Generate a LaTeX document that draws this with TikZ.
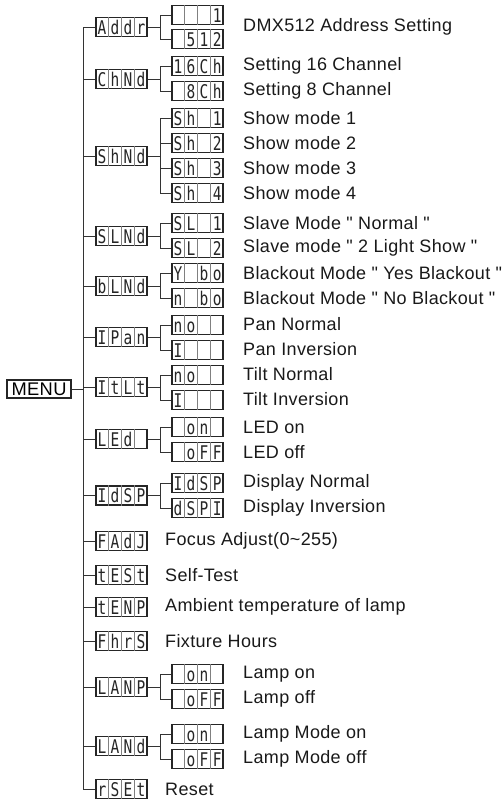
\documentclass[tikz,border=0pt]{standalone}
\usepackage{fontspec}
\setmainfont{Liberation Sans}
\newfontfamily\segfont{DejaVu Sans Mono}
\newfontfamily\lblfont[LetterSpace=2]{Liberation Sans}
\usetikzlibrary{calc}
\tikzset{
  dispbox/.style={draw=black!85, line width=1.3pt, minimum width=51pt, minimum height=19pt, inner sep=0pt},
  divline/.style={draw=black!50, line width=0.6pt},
  segchar/.style={font=\segfont\fontsize{14.5}{14.5}\selectfont, text=black!85, inner sep=0pt, anchor=base},
  conn/.style={draw=black!80, line width=0.9pt},
  lbl/.style={font=\lblfont\fontsize{18}{18}\selectfont, anchor=west, inner sep=0pt, text=black!90},
  menubox/.style={draw=black!85, line width=1.3pt, minimum width=64pt, minimum height=18pt, inner sep=0pt, font=\lblfont\fontsize{18.3}{18.3}\selectfont},
}
\newcommand\segbox[7]{%
  \node[dispbox] (#1) at (#2,#3) {};
  \foreach \k in {1,2,3}{\draw[divline] ($(#1.north west)!\k/4!(#1.north east)$) -- ($(#1.south west)!\k/4!(#1.south east)$);}
  \node[segchar] (#1c1) at ($(#1.west)!0.125!(#1.east)+(0,7)$) {\scalebox{1}[1.3]{#4}};
  \node[segchar] (#1c2) at ($(#1.west)!0.375!(#1.east)+(0,7)$) {\scalebox{1}[1.3]{#5}};
  \node[segchar] (#1c3) at ($(#1.west)!0.625!(#1.east)+(0,7)$) {\scalebox{1}[1.3]{#6}};
  \node[segchar] (#1c4) at ($(#1.west)!0.875!(#1.east)+(0,7)$) {\scalebox{1}[1.3]{#7}};
}
\newcommand\subconn[2]{\draw[conn] (#1.east) -- ++(12.5,0) |- (#2.west);}
\begin{document}
\begin{tikzpicture}[x=1pt,y=-1pt]
\useasboundingbox (0,0) rectangle (503,801);
% main boxes
\def\mx{121.5}
\def\sx{197.5}
\segbox{addr}{\mx}{27}{A}{d}{d}{r}
\segbox{chnd}{\mx}{79}{C}{h}{N}{d}
\segbox{shnd}{\mx}{156}{S}{h}{N}{d}
\segbox{slnd}{\mx}{236}{S}{L}{N}{d}
\segbox{blnd}{\mx}{286}{b}{L}{N}{d}
\segbox{ipan}{\mx}{337}{I}{P}{a}{n}
\segbox{itlt}{\mx}{387}{I}{t}{L}{t}
\segbox{led}{\mx}{439}{L}{E}{d}{}
\segbox{idsp}{\mx}{495.5}{I}{d}{S}{P}
\segbox{fadj}{\mx}{541}{F}{A}{d}{J}
\segbox{tst}{\mx}{575}{t}{E}{S}{t}
\segbox{temp}{\mx}{607}{t}{E}{N}{P}
\segbox{fhrs}{\mx}{641}{F}{h}{r}{S}
\segbox{lamp}{\mx}{687}{L}{A}{N}{P}
\segbox{lamd}{\mx}{746}{L}{A}{N}{d}
\segbox{rset}{\mx}{789}{r}{S}{E}{t}
% sub boxes
\segbox{a1}{\sx}{15}{}{}{}{1}
\segbox{a2}{\sx}{39}{}{5}{1}{2}
\segbox{c1}{\sx}{66}{1}{6}{C}{h}
\segbox{c2}{\sx}{91}{}{8}{C}{h}
\segbox{s1}{\sx}{118}{S}{h}{}{1}
\segbox{s2}{\sx}{143}{S}{h}{}{2}
\segbox{s3}{\sx}{168}{S}{h}{}{3}
\segbox{s4}{\sx}{193}{S}{h}{}{4}
\segbox{l1}{\sx}{223}{S}{L}{}{1}
\segbox{l2}{\sx}{248}{S}{L}{}{2}
\segbox{b1}{\sx}{273}{Y}{}{b}{o}
\segbox{b2}{\sx}{298}{n}{}{b}{o}
\segbox{p1}{\sx}{325}{n}{o}{}{}
\segbox{p2}{\sx}{350}{I}{}{}{}
\segbox{t1}{\sx}{375}{n}{o}{}{}
\segbox{t2}{\sx}{400}{I}{}{}{}
\segbox{e1}{\sx}{427}{}{o}{n}{}
\segbox{e2}{\sx}{452}{}{o}{F}{F}
\segbox{d1}{\sx}{483}{I}{d}{S}{P}
\segbox{d2}{\sx}{508}{d}{S}{P}{I}
\segbox{m1}{\sx}{674}{}{o}{n}{}
\segbox{m2}{\sx}{699}{}{o}{F}{F}
\segbox{n1}{\sx}{734}{}{o}{n}{}
\segbox{n2}{\sx}{759}{}{o}{F}{F}
% menu
\node[menubox] (menu) at (39,389) {MENU};
% trunk
\coordinate (trunktop) at (83,27);
\draw[conn] (trunktop) |- (rset.west);
\draw[conn] (menu.east) -- (menu.east -| trunktop);
\foreach \b in {addr,chnd,shnd,slnd,blnd,ipan,itlt,led,idsp,fadj,tst,temp,fhrs,lamp,lamd}{\draw[conn] (\b.west) -- (\b.west -| trunktop);}
% sub connectors
\subconn{addr}{a1}\subconn{addr}{a2}
\subconn{chnd}{c1}\subconn{chnd}{c2}
\subconn{shnd}{s1}\subconn{shnd}{s2}\subconn{shnd}{s3}\subconn{shnd}{s4}
\subconn{slnd}{l1}\subconn{slnd}{l2}
\subconn{blnd}{b1}\subconn{blnd}{b2}
\subconn{ipan}{p1}\subconn{ipan}{p2}
\subconn{itlt}{t1}\subconn{itlt}{t2}
\subconn{led}{e1}\subconn{led}{e2}
\subconn{idsp}{d1}\subconn{idsp}{d2}
\subconn{lamp}{m1}\subconn{lamp}{m2}
\subconn{lamd}{n1}\subconn{lamd}{n2}
% labels
\node[lbl] (la) at (243,27) {DMX512 Address Setting};
\node[lbl] (lc1) at (243,66) {Setting 16 Channel};
\node[lbl] (lc2) at (243,91) {Setting 8 Channel};
\node[lbl] (ls1) at (243,118) {Show mode 1};
\node[lbl] (ls2) at (243,143) {Show mode 2};
\node[lbl] (ls3) at (243,168) {Show mode 3};
\node[lbl] (ls4) at (243,193) {Show mode 4};
\node[lbl] (ll1) at (243,223) {Slave Mode " Normal "};
\node[lbl] (ll2) at (243,248) {Slave mode " 2 Light Show "};
\node[lbl] (lb1) at (243,273) {Blackout Mode " Yes Blackout "};
\node[lbl] (lb2) at (243,298) {Blackout Mode " No Blackout "};
\node[lbl] (lp1) at (243,324) {Pan Normal};
\node[lbl] (lp2) at (243,349) {Pan Inversion};
\node[lbl] (lt1) at (243,374) {Tilt Normal};
\node[lbl] (lt2) at (243,399) {Tilt Inversion};
\node[lbl] (le1) at (243,427) {LED on};
\node[lbl] (le2) at (243,452) {LED off};
\node[lbl] (ld1) at (243,483) {Display Normal};
\node[lbl] (ld2) at (243,508) {Display Inversion};
\node[lbl] (lf) at (165,541) {Focus Adjust(0\textasciitilde255)};
\node[lbl] (lte) at (165,575) {Self-Test};
\node[lbl] (ltp) at (165,607) {Ambient temperature of lamp};
\node[lbl] (lfh) at (165,641) {Fixture Hours};
\node[lbl] (lm1) at (243,674) {Lamp on};
\node[lbl] (lm2) at (243,699) {Lamp off};
\node[lbl] (ln1) at (243,734) {Lamp Mode on};
\node[lbl] (ln2) at (243,759) {Lamp Mode off};
\node[lbl] (lr) at (165,789) {Reset};
\end{tikzpicture}
\end{document}
